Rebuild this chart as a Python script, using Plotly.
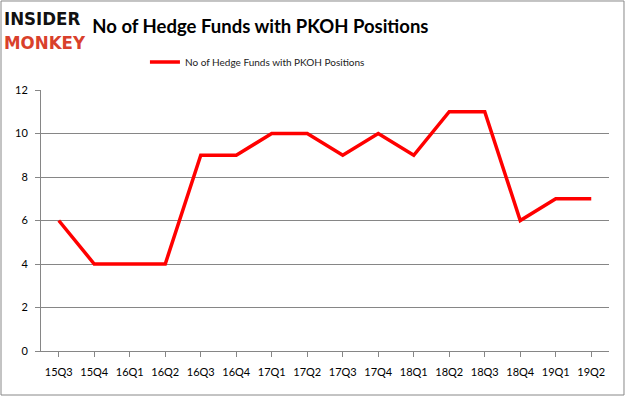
import plotly.graph_objects as go

quarters = ["15Q3", "15Q4", "16Q1", "16Q2", "16Q3", "16Q4", "17Q1", "17Q2",
            "17Q3", "17Q4", "18Q1", "18Q2", "18Q3", "18Q4", "19Q1", "19Q2"]
funds = [6, 4, 4, 4, 9, 9, 10, 10, 9, 10, 9, 11, 11, 6, 7, 7]
series_name = "No of Hedge Funds with PKOH Positions"
y_ticks = [0, 2, 4, 6, 8, 10, 12]

fig = go.Figure()
fig.add_trace(go.Scatter(x=quarters, y=funds, mode="lines", name=series_name,
                         line=dict(color="#ff0000", width=3.5)))

font_family = "Lato, Open Sans, sans-serif"
fig.update_layout(
    width=626, height=397,
    margin=dict(l=41, r=17, t=90, b=46),
    paper_bgcolor="white", plot_bgcolor="white",
    showlegend=True,
    legend=dict(orientation="h", x=0.183, xanchor="left", y=1.107, yanchor="middle",
                font=dict(family=font_family, size=10, color="#222"),
                bgcolor="rgba(0,0,0,0)"),
    title=dict(text="<b>No of Hedge Funds with PKOH Positions</b>", xref="container",
               x=0.416, xanchor="center", y=0.932, yanchor="middle",
               font=dict(family="Lato, sans-serif", size=18.5, color="black")),
    xaxis=dict(type="category", showgrid=False, showline=True, linecolor="#868686",
               ticks="outside", ticklen=5, tickcolor="#868686", ticklabelstandoff=6,
               tickfont=dict(family=font_family, size=11, color="black"),
               range=[-0.5, len(quarters) - 0.5]),
    yaxis=dict(range=[0, 12], tickvals=y_ticks, showgrid=True, gridcolor="#868686",
               gridwidth=1, showline=True, linecolor="#868686", ticks="outside",
               ticklen=5, tickcolor="#868686", zeroline=False, ticklabelstandoff=5,
               tickfont=dict(family=font_family, size=11, color="black")),
)

# Logo (single two-line annotation)
fig.add_annotation(
    text="<b>INSIDER</b><br><span style='color:#d9402b'><b>MONKEY</b></span>",
    xref="paper", yref="paper", x=-0.068, y=1.227, xanchor="left", yanchor="middle",
    align="left", showarrow=False,
    font=dict(family="DejaVu Sans Condensed, DejaVu Sans, sans-serif", size=18.5, color="#111"))

# Outer border
fig.add_shape(type="rect", xref="paper", yref="paper", x0=-0.0704, x1=1.0264, y0=-0.1686, y1=1.341,
              line=dict(color="#888", width=1))

fig.write_html("out.html", config={"displayModeBar": False},
               post_script="document.body.style.margin='0';")
